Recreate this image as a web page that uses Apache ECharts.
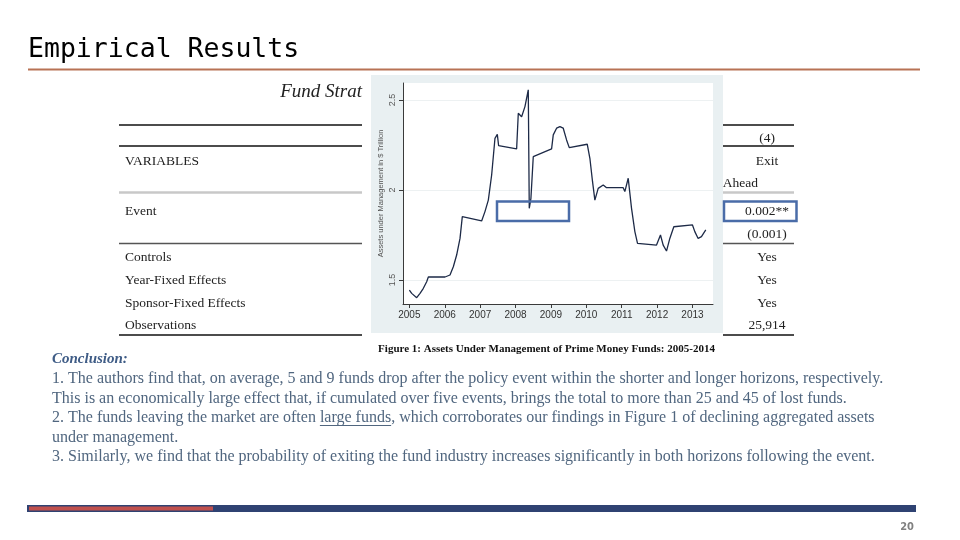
<!DOCTYPE html>
<html><head><meta charset="utf-8">
<script src="https://cdn.jsdelivr.net/npm/echarts@6/dist/echarts.min.js"></script>
<style>html,body{margin:0;padding:0;background:#fff}#c{width:960px;height:540px}</style>
</head><body><div id="c"></div>
<script>
// ---- data ----
const years = [2005.000,2005.066,2005.207,2005.301,2005.395,2005.489,2005.536,2006.007,2006.054,2006.148,2006.242,2006.336,2006.431,2006.496,2007.042,2007.136,2007.231,2007.325,2007.419,2007.485,2007.522,2008.031,2008.078,2008.172,2008.266,2008.360,2008.388,2008.435,2008.501,2008.548,2009.019,2009.066,2009.160,2009.254,2009.348,2009.442,2009.518,2010.026,2010.101,2010.176,2010.242,2010.336,2010.478,2010.572,2011.042,2011.089,2011.184,2011.278,2011.372,2011.447,2011.984,2012.096,2012.172,2012.266,2012.360,2012.473,2013.000,2013.066,2013.160,2013.254,2013.376];
const aum = [1.444,1.426,1.402,1.426,1.454,1.491,1.517,1.517,1.506,1.528,1.574,1.639,1.731,1.852,1.828,1.880,1.944,2.083,2.287,2.309,2.246,2.228,2.426,2.407,2.463,2.556,1.898,1.954,2.185,2.194,2.228,2.306,2.343,2.352,2.343,2.278,2.235,2.254,2.176,2.046,1.944,2.009,2.028,2.013,2.013,1.991,2.065,1.898,1.769,1.704,1.694,1.750,1.694,1.661,1.731,1.796,1.806,1.769,1.731,1.741,1.778];
const xTicks = [2005,2006,2007,2008,2009,2010,2011,2012,2013];
const yTicks = [1.5,2,2.5];
const tableLabels = ['VARIABLES','Event','Controls','Year-Fixed Effects','Sponsor-Fixed Effects','Observations'];
const tableCol4 = ['(4)','Exit','Ahead','0.002**','(0.001)','Yes','Yes','Yes','25,914'];
const slideTitle = 'Empirical Results';
const tableTitle = 'Fund Strat';
const figCaption = 'Figure 1: Assets Under Management of Prime Money Funds: 2005-2014';
const yAxisTitle = 'Assets under Management in $ Trillion';
const conclusionHead = 'Conclusion:';
const conclusionLines = [
 '1. The authors find that, on average, 5 and 9 funds drop after the policy event within the shorter and longer horizons, respectively.',
 'This is an economically large effect that, if cumulated over five events, brings the total to more than 25 and 45 of lost funds.',
 '2. The funds leaving the market are often large funds, which corroborates our findings in Figure 1 of declining aggregated assets',
 'under management.',
 '3. Similarly, we find that the probability of exiting the fund industry increases significantly in both horizons following the event.'
];
const pageNo = '20';

// ---- layout ----
const bodyFont = '16px "Liberation Serif"';
const bodyColor = '#50667f';
const g = [];
function txt(x,y,s,font,fill,align,z){g.push({type:'text',z:z||5,style:{x:x,y:y,text:s,font:font,fill:fill,textAlign:align||'left',textVerticalAlign:'middle'}});}
function hline(x1,x2,y,color,w,z){g.push({type:'line',z:z||5,shape:{x1:x1,y1:y,x2:x2,y2:y},style:{stroke:color,lineWidth:w}});}

// slide title
txt(28,50,slideTitle,'26.5px "DejaVu Sans Mono"','#000');
hline(28,920,69.5,'#b87255',2);
// table (behind the figure)
txt(362,92,tableTitle,'italic 19px "Liberation Serif"','#222','right');
const tl = [[125,'#111',1.3],[146,'#111',1.3],[192.5,'#c8c8c8',2.5],[243.5,'#555',1.3],[335,'#111',1.3]];
tl.forEach(r=>{hline(119,362,r[0],r[1],r[2]);hline(723,794,r[0],r[1],r[2]);});
const leftY = [161,211.5,257.5,280,303,325.5];
tableLabels.forEach((s,i)=>txt(125,leftY[i],s,'13.5px "Liberation Serif"','#222'));
const rightY = [138,161.5,183.5,211.5,234.5,257.5,280,303,325.5];
tableCol4.forEach((s,i)=>{ if(i===2) txt(758,rightY[i],s,'13.5px "Liberation Serif"','#222','right'); else txt(767,rightY[i],s,'13.5px "Liberation Serif"','#222','center');});
// figure panel (below the grid and axes)
g.push({type:'rect',z:-5,shape:{x:371,y:75,width:352,height:258},style:{fill:'#e9f0f2'}});
txt(546.5,349.5,figCaption,'bold 11px "Liberation Serif"','#111','center');
// blue highlight boxes
g.push({type:'rect',z:50,shape:{x:497,y:201.5,width:72,height:19.5},style:{fill:'none',stroke:'#4a6ca8',lineWidth:2.5}});
g.push({type:'rect',z:50,shape:{x:724,y:201.5,width:72.5,height:19.5},style:{fill:'none',stroke:'#4a6ca8',lineWidth:2.5}});
// conclusion
txt(52,359,conclusionHead,'italic bold 15px "Liberation Serif"','#3f5c86');
const cy = [379,398.5,418,437.5,456.5];
conclusionLines.forEach((s,i)=>txt(52,cy[i],s,bodyFont,bodyColor));
// underline for "large funds"
(function(){
  const c=document.createElement('canvas').getContext('2d'); c.font=bodyFont;
  const s=conclusionLines[2]; const k=s.indexOf('large funds');
  const x1=52+c.measureText(s.slice(0,k)).width; const x2=x1+c.measureText('large funds').width;
  hline(x1,x2,cy[2]+7.5,bodyColor,1);
})();
// footer bar
g.push({type:'rect',z:5,shape:{x:27,y:505,width:889,height:7},style:{fill:'#2f4272'}});
g.push({type:'rect',z:6,shape:{x:29,y:506.5,width:184,height:4},style:{fill:'#c0504d'}});
txt(914,527,pageNo,'bold 11px "DejaVu Sans Condensed"','#808080','right');

const chart = echarts.init(document.getElementById('c'));
chart.setOption({
  backgroundColor:'#fff',
  animation:false,
  grid:{left:403,right:247,top:83,bottom:236,show:true,backgroundColor:'#fff',borderWidth:0},
  xAxis:{type:'value',min:2004.82,max:2013.58,z:20,
    axisLine:{lineStyle:{color:'#3a3a3a',width:1}},
    axisTick:{show:true,customValues:xTicks,length:4,lineStyle:{color:'#3a3a3a'}},
    axisLabel:{show:true,customValues:xTicks,color:'#333',fontSize:10,fontFamily:'Liberation Sans',margin:6,formatter:v=>String(Math.round(v))},
    splitLine:{show:false}},
  yAxis:{type:'value',min:1.367,max:2.594,z:20,
    name:yAxisTitle,nameLocation:'middle',nameRotate:90,nameGap:18,
    nameTextStyle:{fontSize:7.5,color:'#555',fontFamily:'Liberation Sans'},
    axisLine:{show:true,lineStyle:{color:'#3a3a3a',width:1}},
    axisTick:{show:true,customValues:yTicks,length:4,lineStyle:{color:'#3a3a3a'}},
    axisLabel:{show:true,customValues:yTicks,rotate:90,color:'#555',fontSize:9,fontFamily:'Liberation Sans',margin:6,formatter:v=>String(v)},
    splitLine:{show:false}},
  series:[{type:'line',z:10,data:years.map((x,i)=>[x,aum[i]]),showSymbol:false,
    lineStyle:{color:'#1d2a47',width:1.3},
    markLine:{silent:true,symbol:'none',label:{show:false},lineStyle:{color:'#edf1f2',width:1,type:'solid'},
      data:yTicks.map(v=>({yAxis:v}))}}],
  graphic:{elements:g}
});
</script></body></html>
